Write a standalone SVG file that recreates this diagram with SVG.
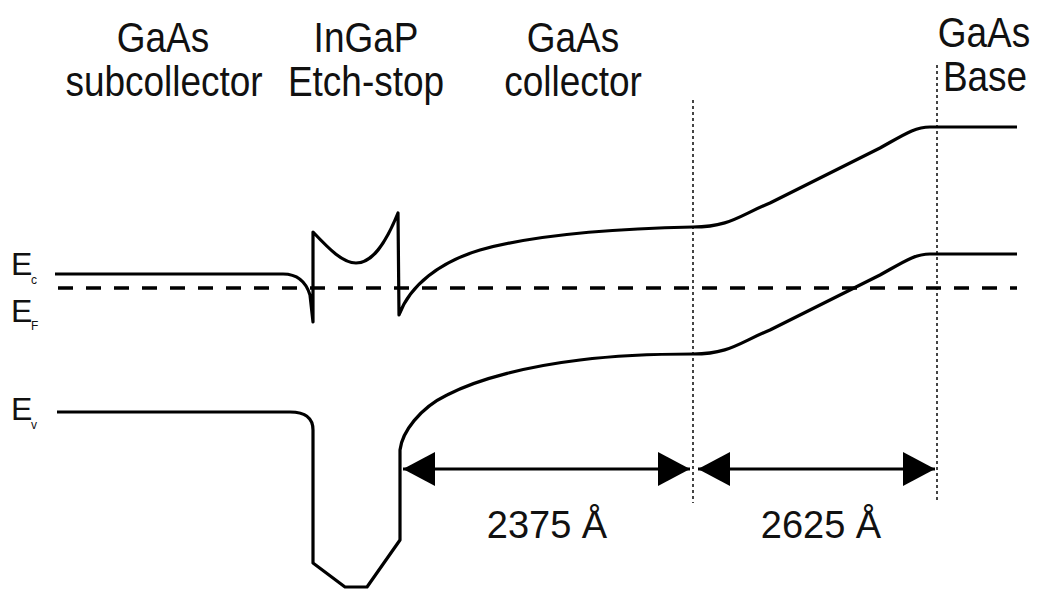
<svg xmlns="http://www.w3.org/2000/svg" width="1039" height="590" viewBox="0 0 1039 590">
<style>
.t{font-family:"Liberation Sans",Arial,sans-serif;fill:#111;text-anchor:middle;font-size:42px}
.d{font-family:"Liberation Sans",Arial,sans-serif;fill:#111;text-anchor:middle;font-size:38px}
.e{font-family:"Liberation Sans",Arial,sans-serif;fill:#111;font-size:32px}
.s{font-family:"Liberation Sans",Arial,sans-serif;fill:#111;font-size:12px}
.band{fill:none;stroke:#000;stroke-width:3.2;stroke-linejoin:round}
.fermi{fill:none;stroke:#000;stroke-width:3.5;stroke-dasharray:15 13}
.dot{fill:none;stroke:#444;stroke-width:2;stroke-dasharray:3 3}
.dim{fill:none;stroke:#000;stroke-width:3.2}
</style>
<defs>
<marker id="arr" viewBox="0 -18 32 36" refX="32" refY="0" markerWidth="32" markerHeight="36" markerUnits="userSpaceOnUse" orient="auto-start-reverse">
<path d="M0,-17 L32,0 L0,17 Z" fill="#000"/>
</marker>
</defs>
<rect width="1039" height="590" fill="#fff"/>
<g id="region-labels">
<text class="t" transform="translate(163,52) scale(0.88,1)">GaAs</text>
<text class="t" transform="translate(164,96) scale(0.88,1)">subcollector</text>
<text class="t" transform="translate(366,52) scale(0.88,1)">InGaP</text>
<text class="t" transform="translate(366,96) scale(0.88,1)">Etch-stop</text>
<text class="t" transform="translate(573,52) scale(0.88,1)">GaAs</text>
<text class="t" transform="translate(573,96) scale(0.88,1)">collector</text>
<text class="t" transform="translate(984,47) scale(0.88,1)">GaAs</text>
<text class="t" transform="translate(985,91) scale(0.88,1)">Base</text>
</g>
<g id="energy-labels">
<text class="e" x="11" y="275">E</text><text class="s" x="31" y="284">c</text>
<text class="e" x="11" y="322">E</text><text class="s" x="31" y="330">F</text>
<text class="e" x="11" y="420">E</text><text class="s" x="31" y="429">v</text>
</g>
<g id="guides">
<path class="dot" d="M693,100 V503"/>
<path class="dot" d="M937,65 V503"/>
</g>
<g id="fermi-level">
<path class="fermi" d="M58,288 H1017"/>
</g>
<g id="conduction-band">
<path class="band" d="M55,274 H283 C298,274 306,282 310,295 L313,322 L313,232 C330,250 343,263 356,263 C372,263 385,245 398,213 L399,315 C410,285 440,262 480,250 C530,236 600,229 693,227 C730,227 740,215 770,203 L880,148 C905,134 915,127 930,127 H1017"/>
</g>
<g id="valence-band">
<path class="band" d="M57,412 H290 C305,412 313,418 313,430 V563 L345,587 H367 L400,540 V450 C402,432 420,408 447,395 C480,378 530,366 580,360 C620,355 650,354 693,354 C730,354 740,342 770,330 L880,275 C905,261 915,254 930,254 H1017"/>
</g>
<g id="connectors">
<path class="dim" d="M403,469 H690" marker-start="url(#arr)" marker-end="url(#arr)"/>
<path class="dim" d="M698,469 H935" marker-start="url(#arr)" marker-end="url(#arr)"/>
</g>
<g id="dimension-labels">
<text class="d" x="547" y="538">2375 Å</text>
<text class="d" x="821" y="538">2625 Å</text>
</g>
</svg>
